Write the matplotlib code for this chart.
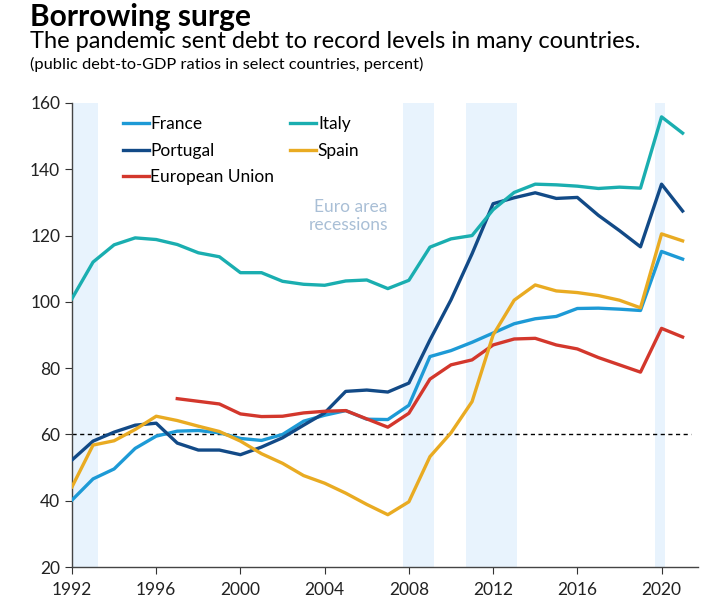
import matplotlib.pyplot as plt

plt.rcParams['font.family'] = ['Lato', 'DejaVu Sans']

years = list(range(1992, 2022))

france = [40.2, 46.6, 49.6, 55.8, 59.5, 61.0, 61.2, 60.5, 58.8, 58.2,
          60.0, 64.0, 65.8, 67.2, 64.6, 64.5, 68.8, 83.5, 85.3, 87.8,
          90.6, 93.4, 94.9, 95.6, 98.0, 98.1, 97.8, 97.4, 115.2, 112.9]
italy = [101.0, 112.0, 117.2, 119.3, 118.8, 117.3, 114.8, 113.6, 108.8, 108.8,
         106.2, 105.3, 105.0, 106.3, 106.6, 104.0, 106.5, 116.5, 119.0, 120.0,
         127.8, 133.0, 135.5, 135.3, 134.9, 134.2, 134.6, 134.3, 155.8, 150.9]
portugal = [52.3, 58.0, 60.7, 62.8, 63.4, 57.4, 55.3, 55.3, 53.9, 56.2,
            59.0, 62.8, 66.5, 73.0, 73.4, 72.8, 75.5, 88.5, 100.6, 114.5,
            129.6, 131.4, 132.9, 131.2, 131.5, 126.1, 121.5, 116.6, 135.5, 127.4]
spain = [44.2, 56.8, 58.1, 61.5, 65.5, 64.2, 62.5, 60.9, 58.0, 54.2,
         51.3, 47.6, 45.3, 42.3, 38.9, 35.8, 39.7, 53.3, 60.5, 69.9,
         90.0, 100.5, 105.1, 103.3, 102.8, 101.9, 100.5, 98.2, 120.5, 118.4]
eu_years = list(range(1997, 2022))
eu = [70.8, 70.0, 69.2, 66.2, 65.4, 65.5, 66.5, 67.0, 67.2, 64.7,
      62.2, 66.4, 76.7, 81.0, 82.5, 87.0, 88.8, 89.0, 87.0, 85.8,
      83.2, 81.0, 78.8, 92.0, 89.4]

recessions = [(1992.0, 1993.25), (2007.7, 2009.2), (2010.7, 2013.15), (2019.7, 2020.15)]

fig = plt.figure(figsize=(7.25, 6.02), dpi=100)
ax = fig.add_axes([0.0993, 0.058, 0.864, 0.771])

for start, end in recessions:
    ax.axvspan(start, end, color='#e8f3fd', lw=0, zorder=0)

ax.hlines(60, 1992, 2021.4, colors='black', linestyles=(0, (3, 2.5)), lw=1.0, zorder=1)

lw = 2.4
ax.plot(years, france, color='#1d9ad6', lw=lw, label='France', solid_joinstyle='round', zorder=3)
ax.plot(years, portugal, color='#124a87', lw=lw, label='Portugal', solid_joinstyle='round', zorder=3)
ax.plot(eu_years, eu, color='#d3372c', lw=lw, label='European Union', solid_joinstyle='round', zorder=3)
ax.plot(years, italy, color='#1aaeb0', lw=lw, label='Italy', solid_joinstyle='round', zorder=3)
ax.plot(years, spain, color='#e9ab22', lw=lw, label='Spain', solid_joinstyle='round', zorder=3)

ax.set_xlim(1992, 2021.75)
ax.set_ylim(20, 160)
ax.set_xticks(range(1992, 2021, 4))
ax.set_yticks(range(20, 161, 20))
ax.tick_params(labelsize=12.5, length=5, color='#333333', colors='#222222')
ax.tick_params(axis='x', pad=6)
for side in ['top', 'right']:
    ax.spines[side].set_visible(False)
for side in ['left', 'bottom']:
    ax.spines[side].set_color('#444444')
    ax.spines[side].set_linewidth(1.0)

ax.legend(ncol=2, frameon=False, loc='upper left', bbox_to_anchor=(0.056, 1.005),
          fontsize=12.5, handlelength=1.5, handletextpad=0.1, columnspacing=0.9,
          labelspacing=0.6)

ax.text(2007.0, 126.0, 'Euro area\nrecessions', color='#a9bfd6', fontsize=12.5,
        ha='right', va='center', linespacing=1.15)

fig.text(0.041, 0.995, 'Borrowing surge', fontsize=21.5, fontweight='bold', va='top')
fig.text(0.041, 0.948, 'The pandemic sent debt to record levels in many countries.',
         fontsize=17, va='top')
fig.text(0.041, 0.905, '(public debt-to-GDP ratios in select countries, percent)',
         fontsize=11.8, va='top')

fig.savefig('out.png', dpi=100)
